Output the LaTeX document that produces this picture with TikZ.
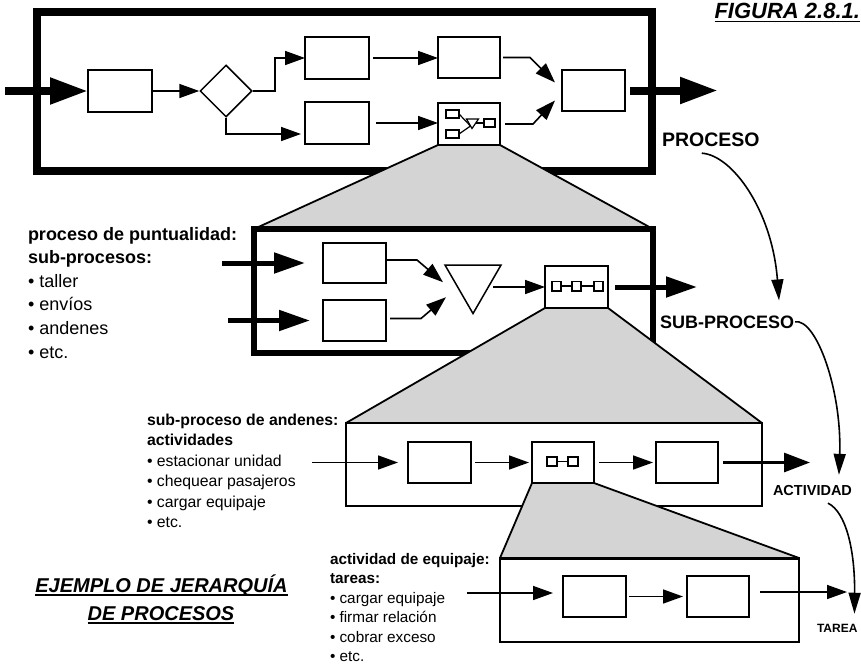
\documentclass[tikz,border=0pt]{standalone}
\usepackage{fontspec}
\setmainfont{Liberation Sans}
\usetikzlibrary{arrows.meta,shapes.geometric,calc}
\newcommand\fsA{\fontsize{18}{21}\selectfont}
\newcommand\fsB{\fontsize{15.8}{19}\selectfont}
\newcommand\fsC{\fontsize{15.3}{18}\selectfont}
\begin{document}
\begin{tikzpicture}[x=1pt,y=-1pt,
  bx/.style={draw,line width=1.5pt,inner sep=0pt,outer sep=0pt,minimum width=63pt,minimum height=41pt},
  ar/.style={line width=1.6pt,-{Triangle[length=20pt,width=14pt]}},
  arm/.style={line width=3pt,-{Triangle[length=26pt,width=19pt]}},
  arb/.style={line width=5pt,-{Triangle[length=31pt,width=20pt]}},
  arh/.style={line width=8pt,-{Triangle[length=38pt,width=25pt]}},
  curv/.style={line width=1.6pt,-{Triangle[length=21pt,width=12pt]}},
  zoomfill/.style={fill=black!17},
  edge/.style={line width=1.8pt},
  lbl/.style={inner sep=0pt,outer sep=0pt,anchor=base west},
  icon/.style={line width=1.2pt},
]
\useasboundingbox (0,0) rectangle (861,664);

% ---------- frames and zoom trapezoids ----------
\draw[line width=8pt] (37,12) rectangle (652,171);
\node[bx,minimum width=62pt,minimum height=42pt] (E) at (469,124) {};
\coordinate (f2nw) at (254,229);
\coordinate (f2ne) at (653,229);
\fill[zoomfill] (E.south west) -- (E.south east) -- (f2ne) -- (f2nw) -- cycle;
\draw[edge] (E.south west) -- (f2nw) (E.south east) -- (f2ne);

\draw[line width=6pt] (f2nw) rectangle (653,353);
\node[bx,minimum height=42pt] (I) at (576.5,287) {};
\coordinate (f3nw) at (346,423);
\coordinate (f3ne) at (762,423);
\fill[zoomfill] (I.south west) -- (I.south east) -- (f3ne) -- (f3nw) -- cycle;
\draw[edge] (I.south west) -- (f3nw) (I.south east) -- (f3ne);

\draw[line width=2.5pt] (f3nw) rectangle (762,506);
\node[bx,minimum width=62pt] (K) at (563,462.5) {};
\coordinate (f4nw) at (500,558);
\coordinate (f4ne) at (799,558);
\fill[zoomfill] (K.south west) -- (K.south east) -- (f4ne) -- (f4nw) -- cycle;
\draw[edge] (K.south west) -- (f4nw) (K.south east) -- (f4ne);

\draw[line width=2pt] (f4nw) rectangle (799,642);
\draw[line width=3pt] (f4nw) -- (f4ne);

% redraw icon boxes on top of fills
\node[bx,minimum width=62pt,minimum height=42pt] (E2) at (E) {};
\node[bx,minimum height=42pt] (I2) at (I) {};
\node[bx,minimum width=62pt] (K2) at (K) {};

% ---------- level 1 ----------
\node[bx,minimum width=64pt,minimum height=42pt] (A) at (120,91) {};
\node[draw,diamond,line width=1.5pt,inner sep=0pt,minimum width=52pt,minimum height=52pt] (D1) at (226,91) {};
\node[bx,minimum width=64pt,minimum height=42pt] (B) at (337,58) {};
\node[bx,minimum width=64pt,minimum height=42pt] (C) at (337,123) {};
\node[bx,minimum width=62pt,minimum height=41pt] (D) at (469,57.5) {};
\node[bx] (F) at (593.5,90.5) {};
\coordinate (in1) at (5,91);
\coordinate (out1) at (718,90.5);
\draw[arh] (in1) -- (A.west);
\draw[ar] (A.east) -- (D1.west);
\draw[ar] (D1.east) -- ++(22,0) |- (B.west);
\draw[ar] (D1.south) |- ($(C.west)+(-4,11)$);
\draw[ar,shorten <=4pt] (B.east) -- (B.east -| D.west);
\draw[ar,shorten <=7pt] (C.east) -- (C.east -| E.west);
\draw[ar,shorten <=3pt] (D.east) -- ++(30,0) -- ($(F.west)+(-7,-8)$);
\draw[ar,shorten <=5pt] (E.east) -- ++(33,0) -- ($(F.west)+(-7,10)$);
\draw[arh,shorten <=5pt] (F.east) -- (out1);
% icon in E
\draw[icon] ($(E.center)+(-23,-14)$) rectangle ($(E.center)+(-10,-6)$);
\draw[icon] ($(E.center)+(-23,6)$) rectangle ($(E.center)+(-10,14)$);
\draw[icon] ($(E.center)+(-2.5,-5)$) -- ($(E.center)+(9.5,-5)$) -- ($(E.center)+(3,4.5)$) -- cycle;
\draw[icon] ($(E.center)+(15,-5)$) rectangle ($(E.center)+(26,3)$);
\draw[icon] ($(E.center)+(-10,-10)$) -- ($(E.center)+(1.5,2)$);
\draw[icon] ($(E.center)+(-10,10)$) -- ($(E.center)+(1.5,2)$);
\draw[icon] ($(E.center)+(7,-1)$) -- ($(E.center)+(15,-1)$);

% ---------- level 2 ----------
\node[bx,minimum height=40pt] (G) at (354.5,263) {};
\node[bx] (H) at (354.5,320.5) {};
\node[draw,regular polygon,regular polygon sides=3,shape border rotate=180,line width=1.5pt,inner sep=0pt,minimum size=64.7pt] (T) at (473,281.2) {};
\coordinate (in2a) at (222,263);
\coordinate (in2b) at (228,320.5);
\coordinate (out2) at (697,287);
\draw[arb] (in2a) -- ($(G.west)+(-18,0)$);
\draw[arb] (in2b) -- ($(H.west)+(-13,0)$);
\draw[ar] ($(G.east)+(0,-3)$) -- ++(31,0) -- ($(T.center)+(-30,1)$);
\draw[ar] ($(H.east)+(4,-2)$) -- ++(31,0) -- ($(T.center)+(-27,16)$);
\draw[ar] ($(T.center)+(20,5.8)$) -- (I.west);
\draw[arb,shorten <=7pt] (I.east) -- (out2);
\foreach \dx in {-24.5,-4.5,17.5}
  \draw[icon] ($(I.center)+(\dx,-5.5)$) rectangle ++(9,9.5);
\draw[icon] ($(I.center)+(-15.5,-1)$) -- ++(11,0);
\draw[icon] ($(I.center)+(4.5,-1)$) -- ++(13,0);

% ---------- level 3 ----------
\node[bx] (J) at (439.5,462.5) {};
\node[bx,minimum width=62pt] (L) at (687,462.5) {};
\coordinate (in3) at (312,462.5);
\coordinate (out3) at (810,462.5);
\draw[ar] (in3) -- ($(J.west)+(-10,0)$);
\draw[ar,shorten <=4pt] (J.east) -- ($(K.west)+(-3,0)$);
\draw[ar,shorten <=5pt] (K.east) -- ($(L.west)+(-3,0)$);
\draw[arm,shorten <=5pt] (L.east) -- (out3);
\draw[icon] ($(K.center)+(-16,-5.5)$) rectangle ++(10,9);
\draw[icon] ($(K.center)+(5,-5.5)$) rectangle ++(10,9);
\draw[icon] ($(K.center)+(-6,-1)$) -- ++(11,0);

% ---------- level 4 ----------
\node[bx] (M) at (594.5,596.5) {};
\node[bx,minimum width=62pt] (N) at (718,596.5) {};
\coordinate (in4) at (467,593);
\coordinate (out4) at (847,592);
\draw[ar] (in4) -- ($(M.west)+(-10,-3.5)$);
\draw[ar,shorten <=3pt] (M.east) -- ($(N.west)+(-4,0)$);
\draw[ar,shorten <=11pt] ($(N.east)+(0,-4.5)$) -- (out4);

% ---------- right labels and curves ----------
\node[lbl,anchor=base east,font=\fontsize{22}{24}\selectfont\bfseries\itshape] (fig) at (860,18) {FIGURA 2.8.1.};
\draw[line width=1.8pt] ($(fig.base west)+(0,3.5)$) -- ($(fig.base east)+(0,3.5)$);
\node[lbl,font=\fontsize{19.5}{22}\selectfont\bfseries] (p1) at (662,146) {PROCESO};
\node[lbl,font=\fontsize{18}{21}\selectfont\bfseries] (p2) at (660,328) {SUB-PROCESO};
\node[lbl,font=\fontsize{14.5}{17}\selectfont\bfseries] (p3) at (773,495) {ACTIVIDAD};
\node[lbl,font=\fontsize{12}{14}\selectfont\bfseries] (p4) at (817,632) {TAREA};
\draw[curv] ($(p1.south)+(-9,7)$) .. controls (732,155) and (772,210) .. ($(p2.north east)+(-15,-15)$);
\draw[curv] ($(p2.east)+(1,0)$) .. controls (816,318) and (842,390) .. ($(p3.north east)+(-13,-10)$);
\draw[curv] ($(p3.south east)+(-24,8)$) .. controls (846,512) and (855,550) .. ($(p4.north east)+(-3,-10)$);

% ---------- left text blocks ----------
\node[lbl,font=\fsA\bfseries] (l2a) at (28,240) {proceso de puntualidad:};
\node[lbl,font=\fsA\bfseries] (l2b) at (28,263.6) {sub-procesos:};
\node[lbl,font=\fsA] (l2c) at (28,287.2) {• taller};
\node[lbl,font=\fsA] (l2d) at (28,310.8) {• envíos};
\node[lbl,font=\fsA] (l2e) at (28,334.4) {• andenes};
\node[lbl,font=\fsA] (l2f) at (28,358) {• etc.};

\node[lbl,font=\fsB\bfseries] (l3a) at (147,425) {sub-proceso de andenes:};
\node[lbl,font=\fsB\bfseries] (l3b) at (147,445.5) {actividades};
\node[lbl,font=\fsB] (l3c) at (147,466) {• estacionar unidad};
\node[lbl,font=\fsB] (l3d) at (147,486.5) {• chequear pasajeros};
\node[lbl,font=\fsB] (l3e) at (147,507) {• cargar equipaje};
\node[lbl,font=\fsB] (l3f) at (147,527.5) {• etc.};

\node[lbl,font=\fsC\bfseries] (l4a) at (330,564) {actividad de equipaje:};
\node[lbl,font=\fsC\bfseries] (l4b) at (330,583.5) {tareas:};
\node[lbl,font=\fsC] (l4c) at (330,603) {• cargar equipaje};
\node[lbl,font=\fsC] (l4d) at (330,622.5) {• firmar relación};
\node[lbl,font=\fsC] (l4e) at (330,642) {• cobrar exceso};
\node[lbl,font=\fsC] (l4f) at (330,661.5) {• etc.};

% ---------- title ----------
\node[lbl,anchor=base,font=\fontsize{20}{22}\selectfont\bfseries\itshape] (t1) at (161.5,592) {EJEMPLO DE JERARQUÍA};
\node[lbl,anchor=base,font=\fontsize{20}{22}\selectfont\bfseries\itshape] (t2) at (161,620) {DE PROCESOS};
\draw[line width=1.8pt] ($(t1.base west)+(0,3)$) -- ($(t1.base east)+(0,3)$);
\draw[line width=1.8pt] ($(t2.base west)+(0,3)$) -- ($(t2.base east)+(0,3)$);
\end{tikzpicture}
\end{document}
